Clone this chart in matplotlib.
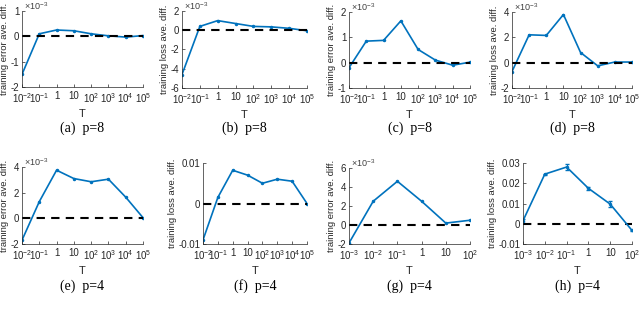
import matplotlib
matplotlib.use("Agg")
import matplotlib.pyplot as plt

plt.rcParams['font.family'] = ['Liberation Sans', 'DejaVu Sans']
plt.rcParams['mathtext.fontset'] = 'custom'
plt.rcParams['mathtext.rm'] = 'Liberation Sans'
plt.rcParams['mathtext.it'] = 'Liberation Sans'

# T values
T8 = [1e-2, 1e-1, 1, 10, 1e2, 1e3, 1e4, 1e5]
T8_labels = [r'$10^{-2}$', r'$10^{-1}$', '1', '10', r'$10^{2}$', r'$10^{3}$', r'$10^{4}$', r'$10^{5}$']
T6 = [1e-3, 1e-2, 1e-1, 1, 10, 1e2]
T6_labels = [r'$10^{-3}$', r'$10^{-2}$', r'$10^{-1}$', '1', '10', r'$10^{2}$']

# values (x1e-3 where the panel shows the multiplier)
a_err = [-1.5, 0.1, 0.25, 0.22, 0.1, 0.02, -0.03, 0.03]
b_loss = [-4.6, 0.4, 1.0, 0.7, 0.4, 0.35, 0.2, -0.05]
c_err = [-0.2, 0.85, 0.88, 1.65, 0.52, 0.1, -0.1, 0.02]
d_loss = [-0.7, 2.2, 2.15, 3.8, 0.8, -0.25, 0.05, 0.05]
e_err = [-1.7, 1.3, 3.75, 3.1, 2.85, 3.05, 1.65, 0.05]
f_loss = [-0.009, 0.0015, 0.0082, 0.007, 0.005, 0.006, 0.0055, 0.0]
g_err = [-1.9, 2.5, 4.6, 2.5, 0.2, 0.5]
h_loss = [0.0015, 0.0245, 0.028, 0.0175, 0.0097, -0.0033]
h_sd = [0.001, 0.0003, 0.0015, 0.0007, 0.0015, 0.0002]

W, H = 640, 314
fig = plt.figure(figsize=(6.4, 3.14), dpi=100)
blue = '#0072BD'

# panel boxes in pixels: left, right, top, bottom ; caption y in pixels
panels = [
    dict(box=(22, 143, 11, 87), cy=128, x=T8, xl=T8_labels, y=a_err, ylim=(-2, 1), yt=[-2, -1, 0, 1],
         ytl=['-2', '-1', '0', '1'], ylab='training error ave. diff.', exp=True, cap='(a)  p=8'),
    dict(box=(182, 307, 11, 88), cy=128, x=T8, xl=T8_labels, y=b_loss, ylim=(-6, 2), yt=[-6, -4, -2, 0, 2],
         ytl=['-6', '-4', '-2', '0', '2'], ylab='training loss ave. diff.', exp=True, cap='(b)  p=8'),
    dict(box=(349, 470, 12, 88), cy=128, x=T8, xl=T8_labels, y=c_err, ylim=(-1, 2), yt=[-1, 0, 1, 2],
         ytl=['-1', '0', '1', '2'], ylab='training error ave. diff.', exp=True, cap='(c)  p=8'),
    dict(box=(512, 632, 12, 88), cy=128, x=T8, xl=T8_labels, y=d_loss, ylim=(-2, 4), yt=[-2, 0, 2, 4],
         ytl=['-2', '0', '2', '4'], ylab='training loss ave. diff.', exp=True, cap='(d)  p=8'),
    dict(box=(22, 143, 167, 244), cy=286, x=T8, xl=T8_labels, y=e_err, ylim=(-2, 4), yt=[-2, 0, 2, 4],
         ytl=['-2', '0', '2', '4'], ylab='training error ave. diff.', exp=True, cap='(e)  p=4'),
    dict(box=(203, 307, 163, 244), cy=286, x=T8, xl=T8_labels, y=f_loss, ylim=(-0.01, 0.01), yt=[-0.01, 0, 0.01],
         ytl=['-0.01', '0', '0.01'], ylab='training loss ave. diff.', exp=False, cap='(f)  p=4'),
    dict(box=(349, 470, 168, 244), cy=286, x=T6, xl=T6_labels, y=g_err, ylim=(-2, 6), yt=[-2, 0, 2, 4, 6],
         ytl=['-2', '0', '2', '4', '6'], ylab='training error ave. diff.', exp=True, cap='(g)  p=4'),
    dict(box=(523, 632, 163, 244), cy=286, x=T6, xl=T6_labels, y=h_loss, ylim=(-0.01, 0.03),
         yt=[-0.01, 0, 0.01, 0.02, 0.03], ytl=['-0.01', '0', '0.01', '0.02', '0.03'],
         ylab='training loss ave. diff.', exp=False, cap='(h)  p=4', err=h_sd),
]

fs = 7
for p in panels:
    l, r, t, b = p['box']
    ax = fig.add_axes([l / W, 1 - b / H, (r - l) / W, (b - t) / H])
    ax.set_xscale('log')
    if 'err' in p:
        ax.errorbar(p['x'], p['y'], yerr=p['err'], color=blue, lw=1.2, marker='.', ms=3,
                    capsize=1.5, elinewidth=0.8)
    else:
        ax.plot(p['x'], p['y'], color=blue, lw=1.2, marker='.', ms=3)
    ax.plot([p['x'][0], p['x'][-1]], [0, 0], 'k--', lw=1.5, dashes=(4, 3))
    ax.set_xlim(p['x'][0], p['x'][-1])
    ax.set_ylim(*p['ylim'])
    ax.set_xticks(p['x'])
    ax.set_xticklabels(p['xl'], fontsize=fs)
    ax.minorticks_off()
    ax.set_yticks(p['yt'])
    ax.set_yticklabels(p['ytl'], fontsize=fs)
    ax.tick_params(direction='in', length=2, width=0.5, pad=2, colors='#262626')
    ax.tick_params(axis='x', pad=3)
    for s in ['top', 'right']:
        ax.spines[s].set_visible(False)
    for s in ['left', 'bottom']:
        ax.spines[s].set_linewidth(0.5)
        ax.spines[s].set_color('#262626')
    ax.set_xlabel('T', fontsize=8, labelpad=3, color='#262626')
    ax.set_ylabel(p['ylab'], fontsize=6.8, labelpad=1, color='#262626')
    if p['exp']:
        ax.text(0.02, 0.985, r'$\times10^{-3}$', transform=ax.transAxes, fontsize=6.5,
                va='bottom', ha='left', color='#404040')
    fig.text((l + r) / 2 / W, 1 - p['cy'] / H, p['cap'], fontsize=10, ha='center', va='center',
             family=['Liberation Serif', 'DejaVu Serif'])

fig.savefig('out.png', dpi=100)
